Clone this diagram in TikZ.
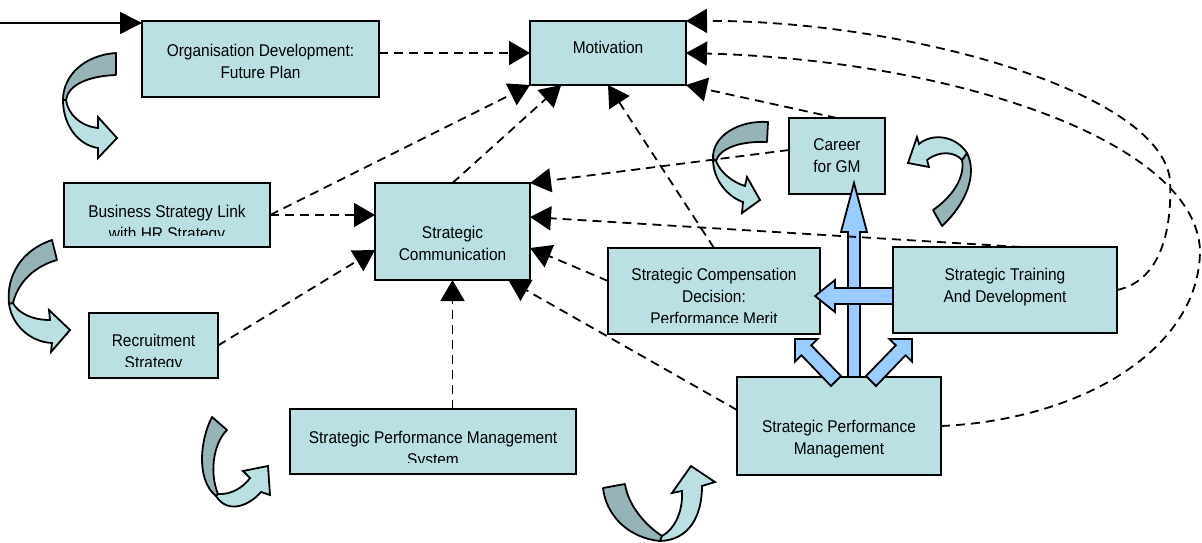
\documentclass[tikz,border=0pt]{standalone}
\usepackage{fontspec}
\setmainfont{Liberation Sans}
\newfontfamily\boxfont{Liberation Sans}[FakeStretch=0.91]
\usetikzlibrary{arrows.meta,calc}

\definecolor{boxfill}{RGB}{187,224,227}
\definecolor{banddark}{RGB}{150,180,183}
\definecolor{bandlight}{RGB}{187,224,227}
\definecolor{blockblue}{RGB}{153,204,255}

\tikzset{
  box/.style={draw, line width=2.2pt, fill=boxfill, inner sep=0pt, outer sep=0pt},
  boxtext/.style={anchor=north, align=center, inner sep=0pt, font=\boxfont\fontsize{17}{22}\selectfont},
  link/.style={line width=1.8pt, dash pattern=on 9pt off 6pt, -{Triangle[length=21pt,width=24pt]}},
  feed/.style={line width=1.6pt, -{Triangle[length=22pt,width=22pt]}},
  block/.style={draw, line width=1.8pt, fill=blockblue, line join=miter},
  bandback/.style={draw, line width=1.8pt, fill=banddark, line join=round},
  bandfront/.style={draw, line width=1.8pt, fill=bandlight, line join=miter}
}

\begin{document}
\begin{tikzpicture}[x=1pt, y=-1pt]
  \path[use as bounding box, fill=white] (0,0) rectangle (1202,542);

  % boxes and their texts
  \node[box, minimum width=237pt, minimum height=76pt] (org) at (260.5,59) {};
  \node[boxtext] (orgtxt) at ([yshift=-23pt]org.north) {Organisation Development:\\Future Plan};

  \node[box, minimum width=156pt, minimum height=64pt] (mot) at (608,53) {};
  \node[boxtext] (mottxt) at ([yshift=-20pt]mot.north) {Motivation};

  \node[box, minimum width=206pt, minimum height=64pt] (link) at (167,215) {};
  \begin{scope}
    \clip (link.north west) rectangle ([yshift=12pt]link.south east);
    \node[boxtext] (linktxt) at ([yshift=-22pt]link.north) {Business Strategy Link\\with HR Strategy};
  \end{scope}

  \node[box, minimum width=129pt, minimum height=65pt] (rec) at (153.5,345.5) {};
  \begin{scope}
    \clip (rec.north west) rectangle ([yshift=12pt]rec.south east);
    \node[boxtext] (rectxt) at ([yshift=-21pt]rec.north) {Recruitment\\Strategy};
  \end{scope}

  \node[box, minimum width=155pt, minimum height=97pt] (comm) at (452.5,231.5) {};
  \node[boxtext] (commtxt) at ([yshift=-43pt]comm.north) {Strategic\\Communication};

  \node[box, minimum width=286pt, minimum height=65pt] (spms) at (433,441.5) {};
  \begin{scope}
    \clip (spms.north west) rectangle ([yshift=12pt]spms.south east);
    \node[boxtext] (spmstxt) at ([yshift=-22pt]spms.north) {Strategic Performance Management\\System};
  \end{scope}

  \node[box, minimum width=212pt, minimum height=86pt] (comp) at (714,291) {};
  \begin{scope}
    \clip (comp.north west) rectangle ([yshift=12pt]comp.south east);
    \node[boxtext] (comptxt) at ([yshift=-20pt]comp.north) {Strategic Compensation\\Decision:\\Performance Merit};
  \end{scope}

  \node[box, minimum width=96pt, minimum height=76pt] (career) at (837,156) {};
  \node[boxtext] (careertxt) at ([yshift=-20pt]career.north) {Career\\for GM};

  \node[box, minimum width=224pt, minimum height=86pt] (train) at (1005,290) {};
  \node[boxtext] (traintxt) at ([yshift=-21pt]train.north) {Strategic Training\\And Development};

  \node[box, minimum width=204pt, minimum height=98pt] (spm) at (839,426) {};
  \node[boxtext] (spmtxt) at ([yshift=-43pt]spm.north) {Strategic Performance\\Management};

  % block arrows out of performance management
  \draw[block] (848,377) -- (848,232) -- (841,232) -- (854,183) -- (867,232) -- (860,232) -- (860,377) -- cycle;
  \draw[block] (893,288) -- (835,288) -- (835,280) -- (815,296) -- (835,312) -- (835,304) -- (893,304) -- cycle;
  \draw[block] (841,376) -- (811.2,345.3) -- (817.6,339) -- (795,339) -- (795,361.6) -- (801.4,355.2) -- (831,386) -- cycle;
  \draw[block] (866,376) -- (895.8,345.3) -- (889.4,339) -- (912,339) -- (912,361.6) -- (905.6,355.2) -- (876,386) -- cycle;

  % curved cycle arrows
  \draw[bandback] (116,53) .. controls (85,55) and (63,75) .. (63,100) -- (66,100) .. controls (68,85) and (88,76) .. (116,75) -- cycle;
  \draw[bandfront] (63,100) .. controls (63,125) and (78,145) .. (98,148) -- (98,158) -- (117,138) -- (98,117) -- (98,128) .. controls (80,126) and (68,114) .. (66,100) -- cycle;

  \draw[bandback] (52,240) .. controls (22,250) and (6,275) .. (9,304) -- (13,303) .. controls (18,282) and (35,266) .. (57,260) -- cycle;
  \draw[bandfront] (9,304) .. controls (12,325) and (30,342) .. (52,343) -- (51,352) -- (70,330) -- (49,310) -- (50,320) .. controls (32,320) and (18,313) .. (13,303) -- cycle;

  \draw[bandback] (212,417) .. controls (200,440) and (196,480) .. (216,496) -- (218,494) .. controls (210,475) and (212,445) .. (227,430) -- cycle;
  \draw[bandfront] (216,496) .. controls (228,515) and (250,505) .. (261,492) -- (270,495) -- (268,466) -- (243,471) -- (250,478) .. controls (243,488) and (230,495) .. (218,494) -- cycle;

  \draw[bandback] (603,488) .. controls (606,515) and (628,538) .. (660,541) -- (662,536) .. controls (645,525) and (628,505) .. (625,484) -- cycle;
  \draw[bandfront] (660,541) .. controls (690,540) and (702,515) .. (702,486) -- (715,482) -- (691,466) -- (672,493) -- (682,491) .. controls (683,510) and (676,528) .. (662,536) -- cycle;

  \draw[bandback] (768,122) .. controls (740,120) and (712,135) .. (713,159) -- (716,161) .. controls (720,148) and (740,141) .. (767,142) -- cycle;
  \draw[bandfront] (713,159) .. controls (713,180) and (728,197) .. (743,202) -- (742,213) -- (760,200) -- (747,177) -- (745,186) .. controls (732,182) and (720,172) .. (716,161) -- cycle;

  \draw[bandback] (967,153) .. controls (978,175) and (965,205) .. (942,226) -- (933,210) .. controls (955,195) and (965,175) .. (962,160) -- cycle;
  \draw[bandfront] (967,153) .. controls (955,135) and (932,133) .. (919,144) -- (917,137) -- (908,163) -- (929,167) -- (927,160) .. controls (940,150) and (955,152) .. (962,160) -- cycle;

  % incoming plan
  \coordinate (src) at (0,23);
  \draw[feed] (src) -- (src -| org.west);

  % dashed links
  \draw[link] (org.east |- mot.west) -- (mot.west);
  \draw[link] (link.east) -- (mot.south west);
  \draw[link] (link.east) -- (link.east -| comm.west);
  \draw[link] (rec.east) -- (comm.west |- 0,250);
  \draw[link] (comm.north) -- ($(mot.south west)!0.2!(mot.south east)$);
  \draw[link] (comp.north) -- (mot.south);
  \draw[link] (comp.west |- 0,281) -- (comm.east |- 0,248);
  \draw[link] (spm.west |- 0,410) -- ($(comm.south west)!0.86!(comm.south east)$);
  \draw[link] (comm.south |- spms.north) -- (comm.south);
  \draw[link] (career.west |- 0,150) -- (comm.north east);
  \draw[link] ($(train.north west)!0.57!(train.north east)$) -- (comm.east |- 0,217);
  \draw[link] (career.north) -- (mot.south east);
  \draw[link] (train.east) .. controls (1165,280) and (1172,220) .. (1170,180) .. controls (1160,90) and (900,20) .. (mot.north east);
  \draw[link] (spm.east) .. controls (1080,420) and (1200,350) .. (1200,250) .. controls (1195,140) and (950,60) .. (mot.east);
\end{tikzpicture}
\end{document}
